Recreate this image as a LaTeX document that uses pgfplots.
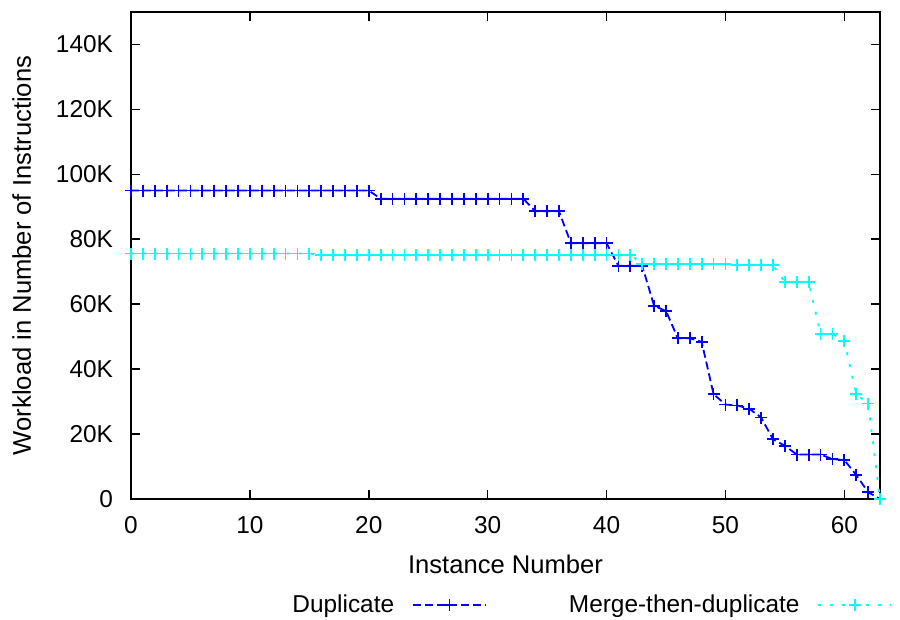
\documentclass[border=0pt]{standalone}
\usepackage{fontspec}
\setmainfont{Liberation Sans}
\usepackage{pgfplots}
\pgfplotsset{compat=1.18}

\definecolor{dupblue}{RGB}{0,0,255}
\definecolor{mergecyan}{RGB}{0,255,255}

\begin{document}
\begin{tikzpicture}
\begin{axis}[
  scale only axis,
  width=374.5pt, height=243.5pt,
  xmin=0, xmax=63, ymin=0, ymax=150000,
  xtick={0,10,...,60},
  ytick={0,20000,40000,60000,80000,100000,120000,140000},
  yticklabels={0,20K,40K,60K,80K,100K,120K,140K},
  scaled ticks=false,
  /pgf/number format/assume math mode=true,
  tick align=inside,
  major tick length=4.5pt,
  axis line style={line width=1pt},
  every tick/.style={black, line width=0.8pt},
  tick label style={font=\fontsize{12.2}{14}\selectfont},
  label style={font=\fontsize{12.8}{15}\selectfont},
  yticklabel style={xshift=-5.5pt},
  xticklabel style={yshift=-5pt},
  xlabel={Instance Number},
  ylabel={Workload in Number of Instructions},
  xlabel style={yshift=-4pt},
  ylabel style={yshift=5.5pt},
  legend columns=2,
  legend plot pos=right,
  legend style={draw=none, fill=none, inner sep=0pt,
    font=\fontsize{12.2}{14}\selectfont,
    nodes={inner sep=0pt},
    at={(0.2150,-0.2170)}, anchor=west,
    /tikz/every even column/.append style={column sep=41pt}},
  legend image code/.code={%
    \path (0pt,0pt) (45.5pt,0pt);
    \draw[mark repeat=2,mark phase=2] plot coordinates {(9pt,0pt) (27.25pt,0pt) (45.5pt,0pt)};},
]
\addplot[dupblue, line width=0.9pt, dash pattern=on 4pt off 2pt,
  mark=+, mark size=3pt, mark options={solid}] coordinates {
(0,95000)(1,95000)(2,95000)(3,95000)(4,95000)(5,95000)(6,95000)(7,95000)
(8,95000)(9,95000)(10,95000)(11,95000)(12,95000)(13,95000)(14,95000)
(15,95000)(16,95000)(17,95000)(18,95000)(19,95000)(20,95000)
(21,92500)(22,92500)(23,92500)(24,92500)(25,92500)(26,92500)(27,92500)
(28,92500)(29,92500)(30,92500)(31,92500)(32,92500)(33,92500)
(34,88600)(35,88600)(36,88600)
(37,78800)(38,78800)(39,78800)(40,78800)
(41,71800)(42,71800)(43,71800)
(44,59500)(45,57900)
(46,49500)(47,49500)(48,48400)
(49,32300)(50,29100)(51,28800)(52,27800)(53,25100)
(54,18400)(55,16400)
(56,13700)(57,13700)(58,13700)(59,12300)(60,12000)
(61,7400)(62,2100)(63,0)
};
\addlegendentry{Duplicate}
\addplot[mergecyan, line width=0.9pt, dash pattern=on 1.5pt off 4.5pt,
  mark=+, mark size=3pt, mark options={solid}] coordinates {
(0,75600)(1,75600)(2,75600)(3,75600)(4,75600)(5,75600)(6,75600)(7,75600)
(8,75600)(9,75600)(10,75600)(11,75600)(12,75600)(13,75600)(14,75600)(15,75600)
(16,75100)(17,75100)(18,75100)(19,75100)(20,75100)(21,75100)(22,75100)
(23,75100)(24,75100)(25,75100)(26,75100)(27,75100)(28,75100)(29,75100)
(30,75100)(31,75100)(32,75100)(33,75100)(34,75100)(35,75100)(36,75100)
(37,75100)(38,75100)(39,75100)(40,75200)(41,75200)(42,75200)
(43,72400)(44,72400)(45,72400)(46,72400)(47,72400)(48,72400)(49,72400)(50,72400)
(51,72000)(52,72000)(53,72000)(54,72000)
(55,66800)(56,66800)(57,66800)
(58,50900)(59,50900)(60,48600)
(61,32300)(62,29400)(63,0)
};
\addlegendentry{Merge-then-duplicate}
\end{axis}
\path ([yshift=6pt]current axis.north);
\path ([xshift=-65.5pt,yshift=-60pt]current axis.south west);
\path ([xshift=10pt]current axis.south east);
\end{tikzpicture}
\end{document}
